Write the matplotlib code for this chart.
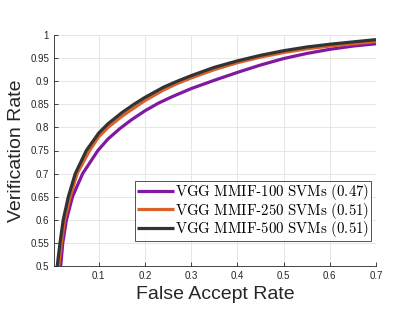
import numpy as np
import matplotlib
matplotlib.use("Agg")
import matplotlib.pyplot as plt

plt.rcParams['font.family'] = ['Liberation Sans', 'DejaVu Sans']
plt.rcParams['mathtext.fontset'] = 'cm'

# ROC-style curves (false accept rate, verification rate)
far_100 = [0.0175, 0.022, 0.030, 0.043, 0.065, 0.098, 0.12, 0.145, 0.17, 0.20, 0.23,
           0.26, 0.30, 0.35, 0.40, 0.45, 0.50, 0.55, 0.60, 0.65, 0.70]
vr_100 = [0.50, 0.55, 0.60, 0.65, 0.70, 0.75, 0.775, 0.797, 0.816, 0.836, 0.853,
          0.867, 0.884, 0.902, 0.919, 0.935, 0.949, 0.960, 0.969, 0.976, 0.981]

far_250 = [0.013, 0.019, 0.026, 0.038, 0.053, 0.080, 0.10, 0.12, 0.15, 0.185, 0.20,
           0.24, 0.27, 0.30, 0.35, 0.40, 0.45, 0.50, 0.55, 0.60, 0.65, 0.70]
vr_250 = [0.50, 0.55, 0.60, 0.65, 0.70, 0.75, 0.780, 0.800, 0.824, 0.848, 0.858,
          0.881, 0.895, 0.907, 0.925, 0.940, 0.952, 0.962, 0.970, 0.976, 0.981, 0.986]

far_500 = [0.010, 0.016, 0.023, 0.034, 0.049, 0.073, 0.10, 0.12, 0.15, 0.176, 0.20,
           0.24, 0.27, 0.30, 0.35, 0.40, 0.45, 0.50, 0.55, 0.60, 0.65, 0.70]
vr_500 = [0.50, 0.55, 0.60, 0.65, 0.70, 0.75, 0.788, 0.808, 0.832, 0.850, 0.865,
          0.887, 0.900, 0.912, 0.930, 0.944, 0.956, 0.966, 0.974, 0.980, 0.985, 0.990]

labels = [r'$\mathrm{VGG\ MMIF}$-$\mathrm{100\ SVMs\ (0.47)}$',
          r'$\mathrm{VGG\ MMIF}$-$\mathrm{250\ SVMs\ (0.51)}$',
          r'$\mathrm{VGG\ MMIF}$-$\mathrm{500\ SVMs\ (0.51)}$']
colors = ['#8218A0', '#D9622B', '#333333']

x_ticks = [0.1, 0.2, 0.3, 0.4, 0.5, 0.6, 0.7]
y_ticks = [0.5, 0.55, 0.6, 0.65, 0.7, 0.75, 0.8, 0.85, 0.9, 0.95, 1]

fig = plt.figure(figsize=(4.15, 3.12), dpi=100)
ax = fig.add_axes([54 / 415, 1 - 266 / 312, 322 / 415, 231 / 312])

series = [(far_100, vr_100), (far_250, vr_250), (far_500, vr_500)]
for (x, y), c, lab in zip(series, colors, labels):
    ax.plot(x, y, color=c, lw=2.3, label=lab, solid_joinstyle='round',
            solid_capstyle='butt')

ax.set_xlim(0.003, 0.7)
ax.set_ylim(0.5, 1)
ax.set_xticks(x_ticks)
ax.set_xticklabels([f"{v:g}" for v in x_ticks])
ax.set_yticks(y_ticks)
ax.set_yticklabels([f"{v:g}" for v in y_ticks])
ax.tick_params(direction='in', labelsize=7, colors='#262626', length=3, width=0.6)
ax.grid(True, color='#e6e6e6', lw=0.7)
ax.set_axisbelow(True)
for s in ['top', 'right']:
    ax.spines[s].set_visible(False)
for s in ['left', 'bottom']:
    ax.spines[s].set_color('#262626')
    ax.spines[s].set_linewidth(0.6)

ax.set_xlabel('False Accept Rate', fontsize=14, color='#262626', labelpad=4)
ax.set_ylabel('Verification Rate', fontsize=14, color='#262626', labelpad=4)

leg = ax.legend(loc='lower right', bbox_to_anchor=(0.985, 0.11), fontsize=10.7,
                frameon=True, fancybox=False, edgecolor='#262626',
                handlelength=2.5, handletextpad=0.1, borderpad=0.12,
                labelspacing=-0.12, borderaxespad=0)
leg.get_frame().set_linewidth(0.7)

fig.savefig('out.png', dpi=100)
